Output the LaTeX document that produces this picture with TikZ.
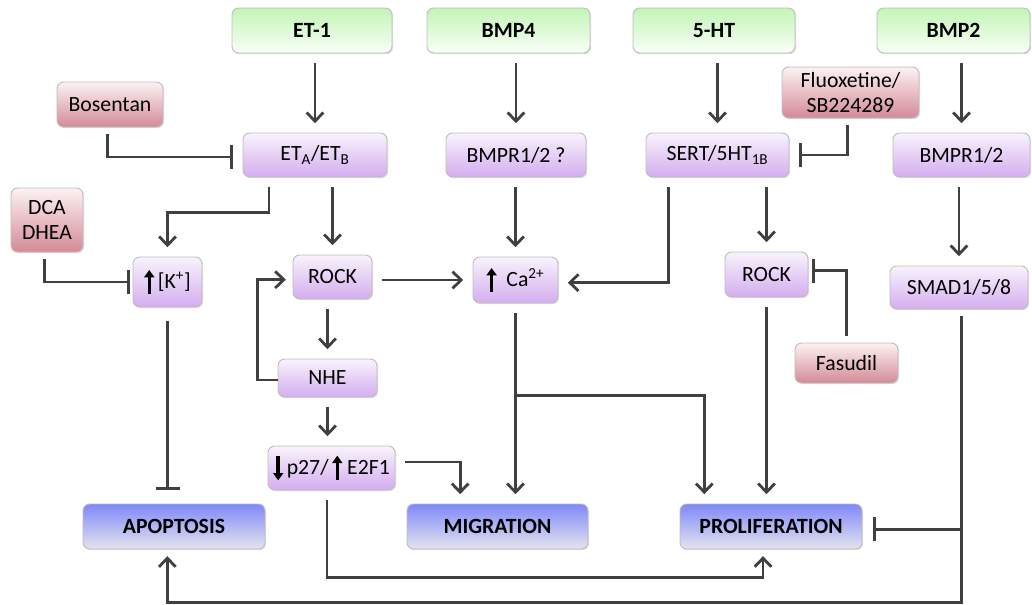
\documentclass[tikz,border=0pt]{standalone}
\usepackage{fontspec}
\setmainfont{Carlito}
\usetikzlibrary{arrows.meta,shadows,calc}
\definecolor{lc}{HTML}{404040}
\definecolor{bd}{HTML}{BDBDBD}
\definecolor{grtop}{HTML}{C2F5B6}
\definecolor{grbot}{HTML}{F9FFF7}
\definecolor{putop}{HTML}{F8F3FC}
\definecolor{pubot}{HTML}{D4ADEF}
\definecolor{retop}{HTML}{FCF2F2}
\definecolor{rebot}{HTML}{D38A97}
\definecolor{bltop}{HTML}{7F88F9}
\definecolor{blbot}{HTML}{E4E4EC}
\newcommand{\uparr}{\tikz[baseline=0pt]\draw[black,line width=2.6pt,-{Triangle[length=5.5pt,width=7.5pt]}] (0pt,-4pt) -- (0pt,14pt);}
\newcommand{\downarr}{\tikz[baseline=0pt]\draw[black,line width=2.6pt,-{Triangle[length=5.5pt,width=7.5pt]}] (0pt,13.5pt) -- (0pt,-4.5pt);}
\tikzset{
  box/.style={draw=bd, rounded corners=5pt, line width=0.7pt, align=center, inner sep=0pt,
    font=\fontsize{16.3}{18.5}\selectfont,
    drop shadow={shadow xshift=0.8pt, shadow yshift=-0.9pt, opacity=0.25}},
  sz/.style 2 args={minimum width=#1*0.75pt, minimum height=#2*0.75pt},
  gbox/.style={box, top color=grtop, bottom color=grbot, font=\fontsize{16.3}{18.5}\selectfont\bfseries},
  pbox/.style={box, top color=putop, bottom color=pubot},
  rbox/.style={box, top color=retop, bottom color=rebot},
  bbox/.style={box, top color=bltop, bottom color=blbot, font=\fontsize{16.3}{18.5}\selectfont\bfseries},
  arr/.style={draw=lc, line width=2.1pt, -{Straight Barb[length=6.5pt,width=12.5pt]}, shorten <=7pt, shorten >=7pt},
  inh/.style={draw=lc, line width=2.1pt, -{Bar[width=18pt]}, shorten <=5pt, shorten >=7pt},
}
\begin{document}
\begin{tikzpicture}[x=0.75pt, y=-0.75pt]
\useasboundingbox (0,0) rectangle (1032,604);
% sources
\node[gbox, sz={160}{45}] (et1) at (312,30.5) {ET-1};
\node[gbox, sz={163}{45}] (bmp4) at (508.5,30.5) {BMP4};
\node[gbox, sz={162}{45}] (ht) at (714,30.5) {5-HT};
\node[gbox, sz={153}{45}] (bmp2) at (953.5,30.5) {BMP2};
% drugs
\node[rbox, sz={106}{45}] (bos) at (110,104.5) {Bosentan};
\node[rbox, sz={137}{51}] (flu) at (850.5,92.5) {Fluoxetine/\\SB224289};
\node[rbox, sz={72}{64}] (dca) at (47,220) {DCA\\DHEA};
\node[rbox, sz={103}{40}] (fas) at (846.5,363) {Fasudil};
% receptors / mediators
\node[pbox, sz={144}{44}] (etab) at (315,155) {ET\textsubscript{A}/ET\textsubscript{B}};
\node[pbox, sz={140}{44}] (bmprq) at (516,155) {BMPR1/2 ?};
\node[pbox, sz={143}{44}] (sert) at (717.5,155) {SERT/5HT\textsubscript{1B}};
\node[pbox, sz={137}{44}] (bmpr) at (961.5,155) {BMPR1/2};
\node[pbox, sz={69}{50}] (k) at (167.5,282) {\uparr\,[K\textsuperscript{+}]};
\node[pbox, sz={79}{44}] (rock1) at (332.5,277) {ROCK};
\node[pbox, sz={85}{46}] (ca) at (515.5,280) {\uparr\ \ Ca\textsuperscript{2+}};
\node[pbox, sz={83}{45}] (rock2) at (766.5,274.5) {ROCK};
\node[pbox, sz={138}{43}] (smad) at (959,287.5) {SMAD1/5/8};
\node[pbox, sz={99}{38}] (nhe) at (327.5,378) {NHE};
\node[pbox, sz={127}{44}] (p27) at (331.5,468) {\downarr\,p27/\,\uparr\ E2F1};
% outcomes
\node[bbox, sz={182}{45}] (apo) at (174,526.5) {APOPTOSIS};
\node[bbox, sz={181}{45}] (mig) at (497.5,526.5) {MIGRATION};
\node[bbox, sz={182}{45}] (pro) at (771,526.5) {PROLIFERATION};
% connectors
\draw[arr] (etab.north |- et1.south) -- (etab.north);
\draw[arr] (bmprq.north |- bmp4.south) -- (bmprq.north);
\draw[arr] (sert.north |- ht.south) -- (sert.north);
\draw[arr] (bmpr.north |- bmp2.south) -- (bmpr.north);
\draw[inh] ([xshift=-2pt]bos.south) |- ([yshift=-1.5pt]etab.west);
\draw[arr] ([xshift=-34.5pt]etab.south) -- ++(0,35) -| (k.north);
\draw[arr] (rock1.north |- etab.south) -- (rock1.north);
\draw[inh, shorten >=2pt] ([xshift=-2pt]dca.south) |- (k.west);
\draw[inh, shorten <=10pt, shorten >=10pt] (k.south) -- (k.south |- apo.north);
\draw[arr] (nhe.north |- rock1.south) -- (nhe.north);
\draw[arr, shorten <=0pt, shorten >=5pt] ([yshift=-1.5pt]nhe.west) -- ++(-20,0) |- ([yshift=-2pt]rock1.west);
\draw[arr] (nhe.south) -- (nhe.south |- p27.north);
\draw[arr] ([yshift=4.5pt]p27.east) -| ([xshift=-28pt]mig.north);
\draw[arr, shorten >=5pt] ([xshift=-3.4pt]p27.south) -- ++(0,87) -| ([xshift=-6pt]pro.south);
\draw[arr] (ca.south) -- (ca.south |- mig.north);
\draw[arr, shorten <=0pt] ($(ca.south)+(0,92)$) -| ([xshift=-50pt]pro.north);
\draw[arr] (rock1.east |- ca.west) -- (ca.west);
\draw[arr] (ca.north |- bmprq.south) -- (ca.north);
\draw[arr] ([xshift=-37pt]sert.south) |- ([yshift=-2pt]ca.east);
\draw[inh] ([xshift=-2pt]flu.south) |- (sert.east);
\draw[arr] (rock2.north |- sert.south) -- (rock2.north);
\draw[arr] (smad.north |- bmpr.south) -- (smad.north);
\draw[inh, shorten >=3pt] (fas.north) |- ([yshift=3pt]rock2.east);
\draw[arr] (rock2.south) -- (rock2.south |- pro.north);
\draw[inh, shorten >=8pt] ([xshift=2pt]smad.south) |- ([yshift=-2pt]pro.east);
\draw[arr, shorten >=5pt] ([xshift=2pt]smad.south) -- ++(0,293) -| ([xshift=-5pt]apo.south);
\end{tikzpicture}
\end{document}
